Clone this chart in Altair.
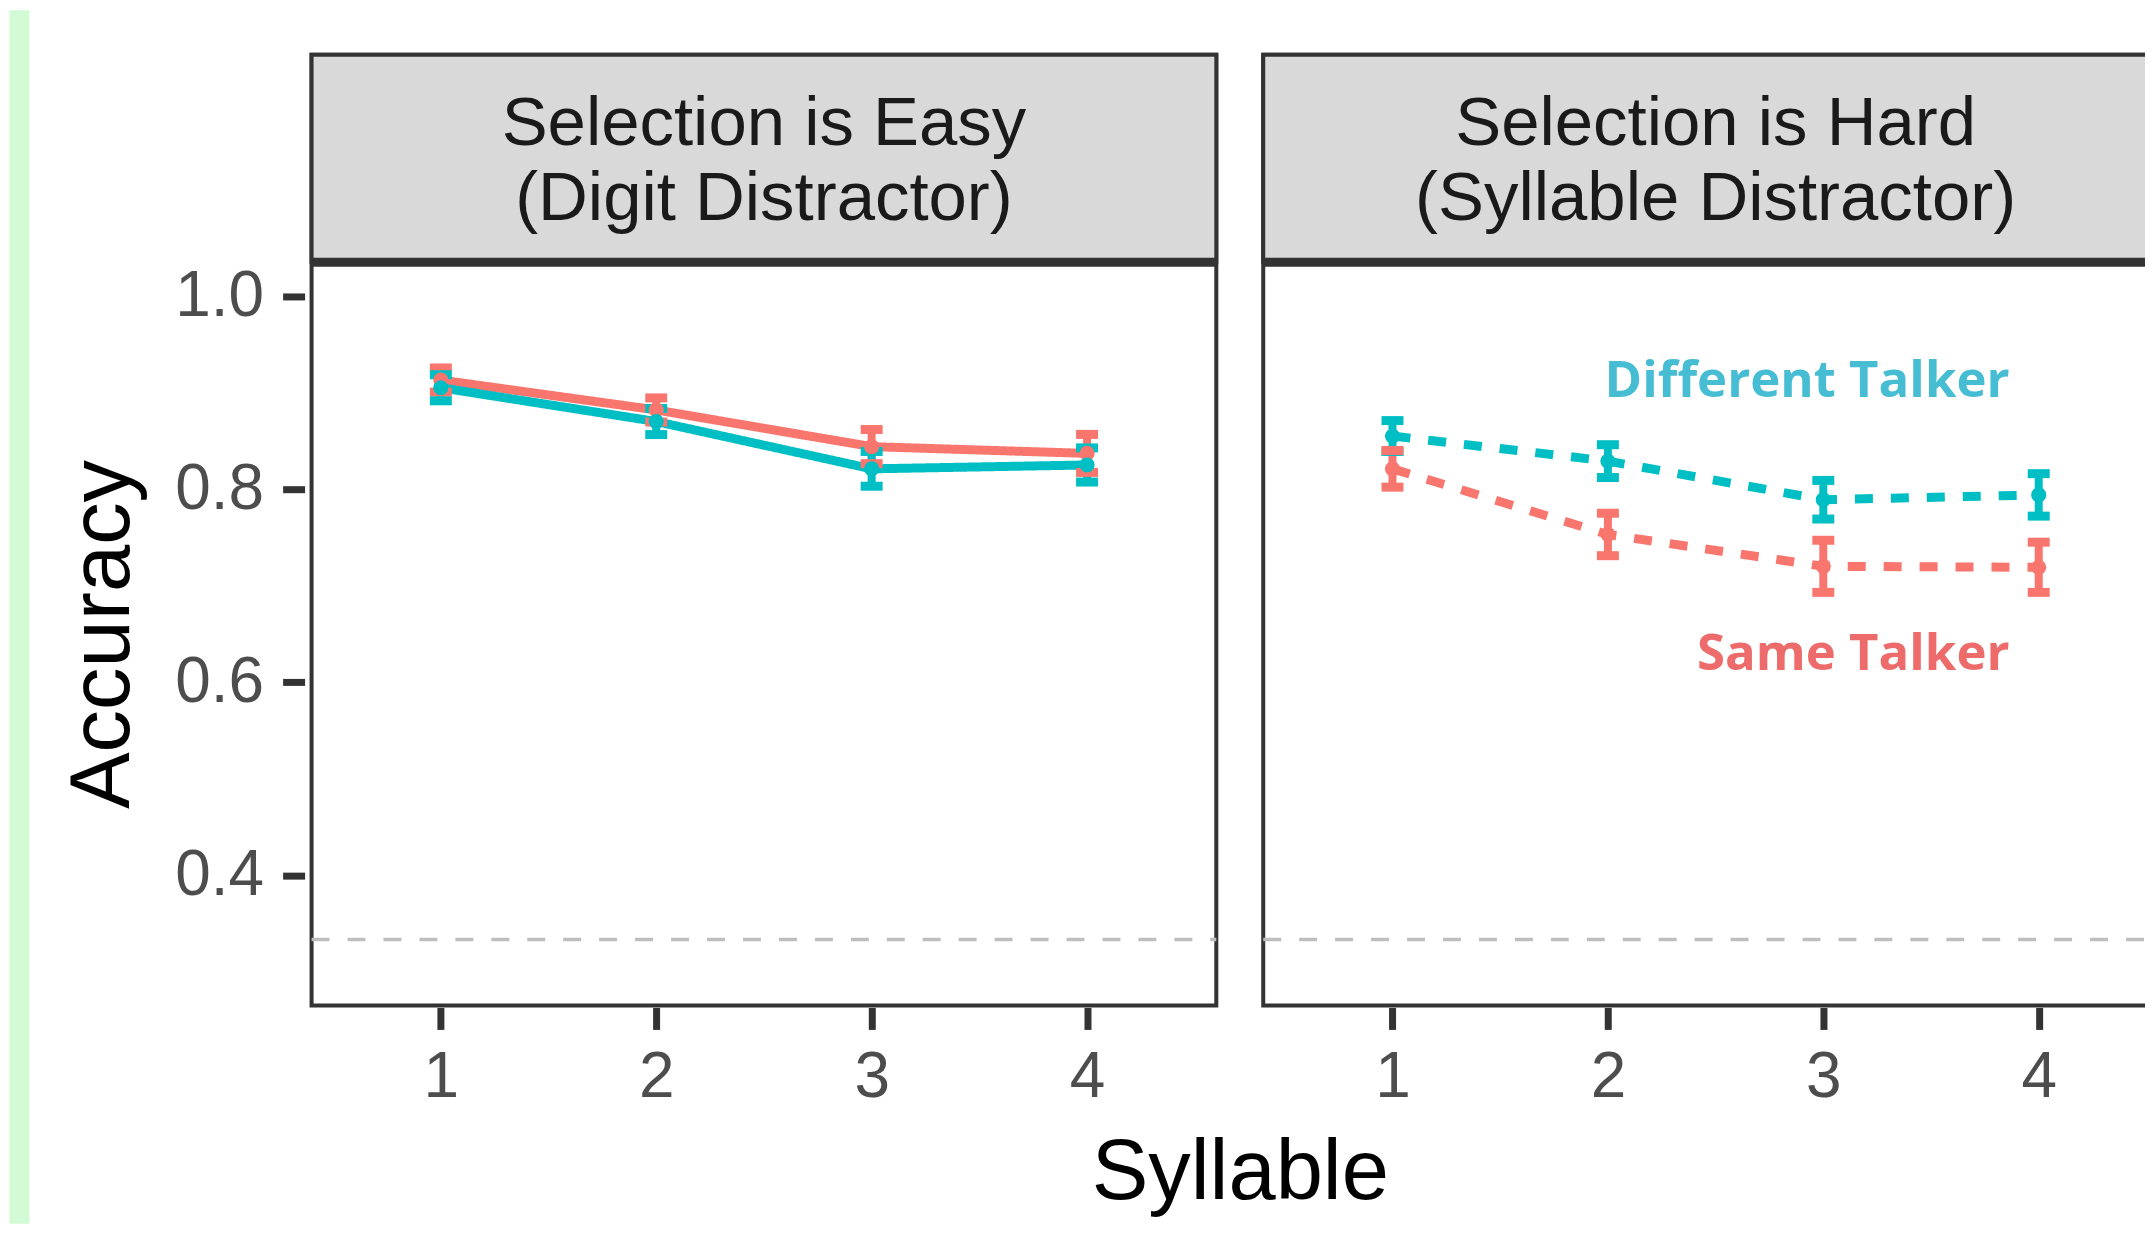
import altair as alt
import pandas as pd

# ---------------- data ----------------
PANEL_KEYS = ["Easy", "Hard"]
STRIP_LABELS = ["Selection is Easy\n(Digit Distractor)", "Selection is Hard\n(Syllable Distractor)"]
TALKERS = ["Same Talker", "Different Talker"]
SYLLABLES = [1, 2, 3, 4]

EASY_SAME = [0.913, 0.882, 0.844, 0.837]
EASY_SAME_ERR = [0.0125, 0.0125, 0.0177, 0.0197]
EASY_DIFF = [0.905, 0.870, 0.821, 0.825]
EASY_DIFF_ERR = [0.0135, 0.0135, 0.0180, 0.0177]
HARD_SAME = [0.821, 0.753, 0.720, 0.719]
HARD_SAME_ERR = [0.019, 0.022, 0.027, 0.026]
HARD_DIFF = [0.855, 0.829, 0.789, 0.794]
HARD_DIFF_ERR = [0.016, 0.017, 0.020, 0.022]

CHANCE = 1 / 3
Y_TICKS = [0.4, 0.6, 0.8, 1.0]
ANNOTATIONS = ["Same Talker", "Different Talker"]

# ---------------- styling / layout constants ----------------
FONT = "Liberation Sans"
ANN_FONT = "Open Sans"
RED = "#F8766D"
TEAL = "#00BFC4"
SAME_LABEL_COLOR = "#EE6B6B"
DIFF_LABEL_COLOR = "#47BDD3"
GREEN = "#D2FAD5"
DARK = "#333333"
AXIS_TEXT = "#4D4D4D"

X_MIN, X_MAX = 0.4, 4.6
Y_MIN, PANEL_TOP, Y_MAX = 0.265, 1.035, 1.25
STRIP_TEXT_Y = Y_MAX - (Y_MAX - PANEL_TOP) * 0.336
ANN_X = 3.865
DIFF_ANN_Y = 0.8956
SAME_ANN_Y = 0.613
CELL_W, CELL_H = 906, 952

# ---------------- table ----------------
rows = []
series = [
    ("Easy", "Same Talker", EASY_SAME, EASY_SAME_ERR),
    ("Easy", "Different Talker", EASY_DIFF, EASY_DIFF_ERR),
    ("Hard", "Same Talker", HARD_SAME, HARD_SAME_ERR),
    ("Hard", "Different Talker", HARD_DIFF, HARD_DIFF_ERR),
]
for panel, talker, vals, errs in series:
    for s, v, e in zip(SYLLABLES, vals, errs):
        rows.append(dict(panel=panel, kind="pt", talker=talker, syllable=s,
                         acc=v, lo=v - e, hi=v + e, strip=""))
for key, label in zip(PANEL_KEYS, STRIP_LABELS):
    rows.append(dict(panel=key, kind="strip", talker="", strip=label))
for t in ANNOTATIONS:
    rows.append(dict(panel="Hard", kind="ann", talker=t, strip=t))
df = pd.DataFrame(rows)

# ---------------- scales / axes ----------------
xs = alt.Scale(domain=[X_MIN, X_MAX], nice=False, zero=False)
ys = alt.Scale(domain=[Y_MIN, Y_MAX], nice=False, zero=False)
x_axis = alt.Axis(values=SYLLABLES, format="d", title=None, labelFont=FONT,
                  labelFontSize=64, labelColor=AXIS_TEXT, labelPadding=16,
                  tickColor=DARK, tickWidth=7, tickSize=22, domain=False,
                  grid=False, labelFlush=False)
y_axis = alt.Axis(values=Y_TICKS, format=".1f", title="Accuracy", titleFont=FONT,
                  titleFontSize=85, titleFontWeight="normal", titleColor="#000000",
                  titleX=-176, titleY=580, titleBaseline="alphabetic",
                  titleAngle=270, titleAlign="center",
                  labelFont=FONT, labelFontSize=64, labelColor=AXIS_TEXT,
                  labelPadding=19, tickColor=DARK, tickWidth=7, tickSize=22,
                  domain=False, grid=False)

color = alt.Color("talker:N", scale=alt.Scale(domain=TALKERS, range=[RED, TEAL]), legend=None)
X = alt.X("syllable:Q", scale=xs, axis=x_axis)
Y = alt.Y("acc:Q", scale=ys, axis=y_axis)

base = alt.Chart()
is_strip = alt.datum.kind == "strip"
is_pt = alt.datum.kind == "pt"

strip_rect = base.transform_filter(is_strip).mark_rect(
    fill="#D9D9D9", stroke=DARK, strokeWidth=4
).encode(
    x=alt.XDatum(X_MIN, scale=xs, axis=x_axis), x2=alt.X2Datum(X_MAX),
    y=alt.YDatum(PANEL_TOP, scale=ys, axis=y_axis), y2=alt.Y2Datum(Y_MAX),
)
sep_rule = base.transform_filter(is_strip).mark_rule(color=DARK, strokeWidth=9).encode(
    x=alt.XDatum(X_MIN, scale=xs, axis=x_axis), x2=alt.X2Datum(X_MAX),
    y=alt.YDatum(PANEL_TOP, scale=ys, axis=y_axis),
)
chance_rule = base.transform_filter(is_strip).mark_rule(
    color="#BEBEBE", strokeWidth=3.5, strokeDash=[18, 18]
).encode(
    x=alt.XDatum(X_MIN, scale=xs, axis=x_axis), x2=alt.X2Datum(X_MAX),
    y=alt.YDatum(CHANCE, scale=ys, axis=y_axis),
)
strip_text = base.transform_filter(is_strip).mark_text(
    font=FONT, fontSize=69, color="#1A1A1A", lineBreak="\n", lineHeight=75,
    align="center", baseline="middle"
).encode(
    x=alt.XDatum(2.5, scale=xs, axis=x_axis),
    y=alt.YDatum(STRIP_TEXT_Y, scale=ys, axis=y_axis),
    text="strip:N",
)
lines = base.transform_filter(is_pt).mark_line(strokeWidth=9).encode(
    x=X, y=Y, color=color,
    strokeDash=alt.StrokeDash("panel:N", scale=alt.Scale(domain=PANEL_KEYS, range=[[1, 0], [18, 18]]), legend=None),
)
stems = base.transform_filter(is_pt).mark_rule(strokeWidth=8).encode(
    x=X, y=alt.Y("lo:Q", scale=ys, axis=y_axis), y2="hi:Q", color=color,
)
cap_lo = base.transform_filter(is_pt).mark_tick(orient="horizontal", size=22, thickness=9, opacity=1).encode(
    x=X, y=alt.Y("lo:Q", scale=ys, axis=y_axis), color=color,
)
cap_hi = base.transform_filter(is_pt).mark_tick(orient="horizontal", size=22, thickness=9, opacity=1).encode(
    x=X, y=alt.Y("hi:Q", scale=ys, axis=y_axis), color=color,
)
points = base.transform_filter(is_pt).mark_circle(size=230, opacity=1).encode(
    x=X, y=Y, color=color,
)
ann_diff = base.transform_filter((alt.datum.kind == "ann") & (alt.datum.talker == "Different Talker")).mark_text(
    font=ANN_FONT, fontWeight="bold", fontSize=51, color=DIFF_LABEL_COLOR,
    align="right", baseline="alphabetic"
).encode(
    x=alt.XDatum(ANN_X, scale=xs, axis=x_axis),
    y=alt.YDatum(DIFF_ANN_Y, scale=ys, axis=y_axis),
    text="strip:N",
)
ann_same = base.transform_filter((alt.datum.kind == "ann") & (alt.datum.talker == "Same Talker")).mark_text(
    font=ANN_FONT, fontWeight="bold", fontSize=51, color=SAME_LABEL_COLOR,
    align="right", baseline="alphabetic"
).encode(
    x=alt.XDatum(ANN_X, scale=xs, axis=x_axis),
    y=alt.YDatum(SAME_ANN_Y, scale=ys, axis=y_axis),
    text="strip:N",
)

layered = alt.layer(
    strip_rect, sep_rule, chance_rule, strip_text, lines, stems, cap_lo, cap_hi,
    points, ann_diff, ann_same, data=df
).properties(width=CELL_W, height=CELL_H,
             view=alt.ViewBackground(stroke=DARK, strokeWidth=4, fill="white"))

facet = layered.facet(
    column=alt.Column("panel:N", sort=PANEL_KEYS, header=alt.Header(
        labels=False, title="Syllable", titleOrient="bottom", titleFont=FONT,
        titleFontSize=85, titleFontWeight="normal", titleColor="#000000",
        titleBaseline="top", titlePadding=13)),
    spacing=33,
)

spacer_df = pd.DataFrame({"a": [0]})
green_strip = alt.Chart(spacer_df).mark_point(opacity=0).properties(
    width=20, height=1215, view=alt.ViewBackground(fill=GREEN, stroke="transparent"))
top_space = alt.Chart(spacer_df).mark_point(opacity=0).properties(
    width=10, height=40, view=alt.ViewBackground(fill="transparent", stroke="transparent"))

chart = alt.hconcat(
    green_strip,
    alt.vconcat(top_space, facet, spacing=0),
    spacing=31,
).properties(
    padding={"left": 0, "top": 0, "right": -30, "bottom": 0}
).configure_view(
    stroke=DARK, strokeWidth=4, fill="white"
).configure(background="white")

chart.save("out.html", embed_options={"renderer": "svg", "actions": False})
